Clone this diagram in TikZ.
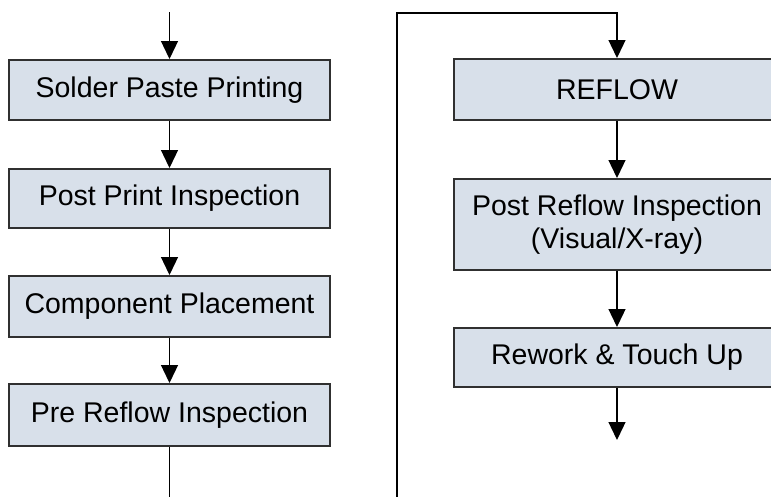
\documentclass[tikz,border=0pt]{standalone}
\usepackage{fontspec}
\setmainfont{Liberation Sans}
\usetikzlibrary{positioning,arrows.meta}
\definecolor{boxfill}{RGB}{216,224,234}
\definecolor{boxline}{RGB}{48,48,48}

\begin{document}
\begin{tikzpicture}[x=1pt,y=-1pt,
   stepbox/.style={draw=boxline,line width=2pt,fill=boxfill,
      minimum width=321pt,minimum height=60pt,align=center,
      inner sep=0pt,font=\fontsize{28.5}{33}\selectfont},
   flow/.style={line width=1.3pt,-{Triangle[width=17pt,length=18pt]}},
   wire/.style={line width=1.3pt},
   node distance=46pt]

\clip (0,0) rectangle (771,496);

% left column
\node[stepbox] (print) at (169.5,90) {Solder Paste Printing};
\node[stepbox,below=47pt of print,minimum height=59pt] (ppi) {Post Print Inspection};
\node[stepbox,below=of ppi,minimum height=61pt] (place) {Component Placement};
\node[stepbox,below=45pt of place,minimum height=62pt] (pri) {Pre Reflow Inspection};

% right column
\node[stepbox,minimum width=326pt,minimum height=61pt] (reflow) at (617,89.5) {REFLOW};
\node[stepbox,minimum width=326pt,minimum height=91pt,below=57pt of reflow] (pro)
   {Post Reflow Inspection\\(Visual/X-ray)};
\node[stepbox,minimum width=326pt,minimum height=59pt,below=56pt of pro] (rework) {Rework \& Touch Up};

\coordinate (in) at (169.5,12);
\coordinate (down) at (169.5,500);
\coordinate (up) at (397,500);
\coordinate (top) at (397,13);
\coordinate (out) at (617,440);

\draw[flow] (in) -- (print);
\draw[flow] (print) -- (ppi);
\draw[flow] (ppi) -- (place);
\draw[flow] (place) -- (pri);
\draw[wire] (pri) -- (down);
\draw[flow] (up) -- (top) -| (reflow.north);
\draw[flow] (reflow) -- (pro);
\draw[flow] (pro) -- (rework);
\draw[flow] (rework) -- (out);

\end{tikzpicture}
\end{document}
